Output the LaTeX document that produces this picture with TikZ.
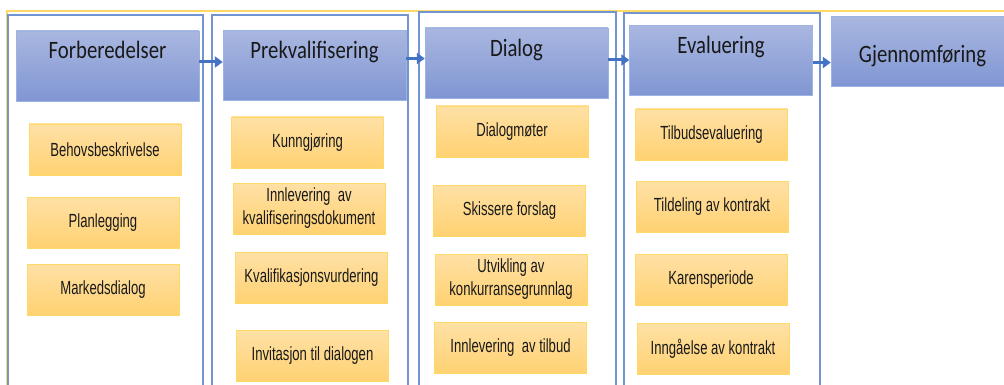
\documentclass[tikz,border=0pt]{standalone}
\usepackage{fontspec}
\usetikzlibrary{arrows.meta, positioning}

\newfontfamily\headfont[FakeStretch=0.83]{Carlito}
\newfontfamily\taskfont[FakeStretch=0.69]{Liberation Sans}

\definecolor{headtop}{HTML}{A9B7E0}
\definecolor{headbot}{HTML}{8096D3}
\definecolor{headline}{HTML}{9DB3E3}
\definecolor{tasktop}{HTML}{FFE1A6}
\definecolor{taskbot}{HTML}{FFD171}
\definecolor{taskline}{HTML}{FFD966}
\definecolor{colline}{HTML}{7295D2}
\definecolor{flowblue}{HTML}{4472C4}
\definecolor{frameorange}{HTML}{FFD966}

\tikzset{
  head/.style={draw=headline, top color=headtop, bottom color=headbot,
    minimum width=183pt, minimum height=70pt, inner sep=0pt},
  headtxt/.style={font=\headfont\fontsize{25}{28}\selectfont, text=black!90,
    inner sep=0pt, anchor=base},
  task/.style={draw=taskline, top color=tasktop, bottom color=taskbot,
    minimum width=152pt, minimum height=51pt, inner sep=2pt, align=center,
    font=\taskfont\fontsize{19}{23}\selectfont, text=black!90},
  flow/.style={-{Triangle[length=8pt,width=11pt]}, line width=3pt, draw=flowblue},
  colframe/.style={draw=colline, line width=1.3pt}
}

\begin{document}
\begin{tikzpicture}[x=1pt, y=-1pt]
\useasboundingbox (0,0) rectangle (1004,385);

% outer frame
\draw[frameorange, line width=1.5pt] (7,390) |- (1010,11);

% column frames
\draw[colframe] (8,390) |- (203,15) -- (203,390);
\draw[colframe] (212,390) |- (408,15) -- (408,390);
\draw[colframe] (419,390) |- (616,12) -- (616,390);
\draw[colframe] (624,390) |- (820,13) -- (820,390);

% phase headers
\node[head] (forb) at (107.5,66) {};
\node[head] (prek) at (314.5,65.5) {};
\node[head] (dial) at (516.5,63) {};
\node[head] (eval) at (721,60.5) {};
\node[head] (gjen) at (922.5,51.5) {};

\node[headtxt] (forbtxt) at ([yshift=-28pt]forb.north) {Forberedelser};
\node[headtxt] (prektxt) at ([yshift=-28pt]prek.north) {Prekvalifisering};
\node[headtxt] (dialtxt) at ([yshift=-29pt]dial.north) {Dialog};
\node[headtxt] (evaltxt) at ([yshift=-28pt]eval.north) {Evaluering};
\node[headtxt] (gjentxt) at ([yshift=-46pt]gjen.north) {Gjennomføring};

% arrows between the phases
\draw[flow] ([yshift=4pt]forb.east) -- ([yshift=4pt]forb.east -| prek.west);
\draw[flow] ([yshift=7pt]prek.east) -- ([yshift=7pt]prek.east -| dial.west);
\draw[flow] ([yshift=3pt]dial.east) -- ([yshift=3pt]dial.east -| eval.west);
\draw[flow] ([yshift=-2pt]eval.east) -- ([yshift=-2pt]eval.east -| gjen.west);

% Forberedelser
\node[task] (behov) at (105,149.5) {Behovsbeskrivelse};
\node[task] (planl) at (103,222.5) {Planlegging};
\node[task] (marked) at (103,289.5) {Markedsdialog};

% Prekvalifisering
\node[task] (kunng) at (307.5,142.5) {Kunngjøring};
\node[task] (innkval) at (309,208.5) {Innlevering\ \ av\\kvalifiseringsdokument};
\node[task] (kvalvurd) at (311.5,277.5) {Kvalifikasjonsvurdering};
\node[task] (invit) at (312.5,356) {Invitasjon\ til dialogen};

% Dialog
\node[task] (dialm) at (512,131.5) {Dialogmøter};
\node[task] (skiss) at (509.5,210.5) {Skissere forslag};
\node[task] (utvik) at (511,279.5) {Utvikling av\\konkurransegrunnlag};
\node[task] (inntilb) at (510.5,348) {Innlevering\ \ av tilbud};

% Evaluering
\node[task] (tilbev) at (711.5,134.5) {Tilbudsevaluering};
\node[task] (tildel) at (712,206.5) {Tildeling\ av kontrakt};
\node[task] (karens) at (711,279.5) {Karensperiode};
\node[task] (inngaa) at (713,348.5) {Inngåelse av kontrakt};

\end{tikzpicture}
\end{document}
